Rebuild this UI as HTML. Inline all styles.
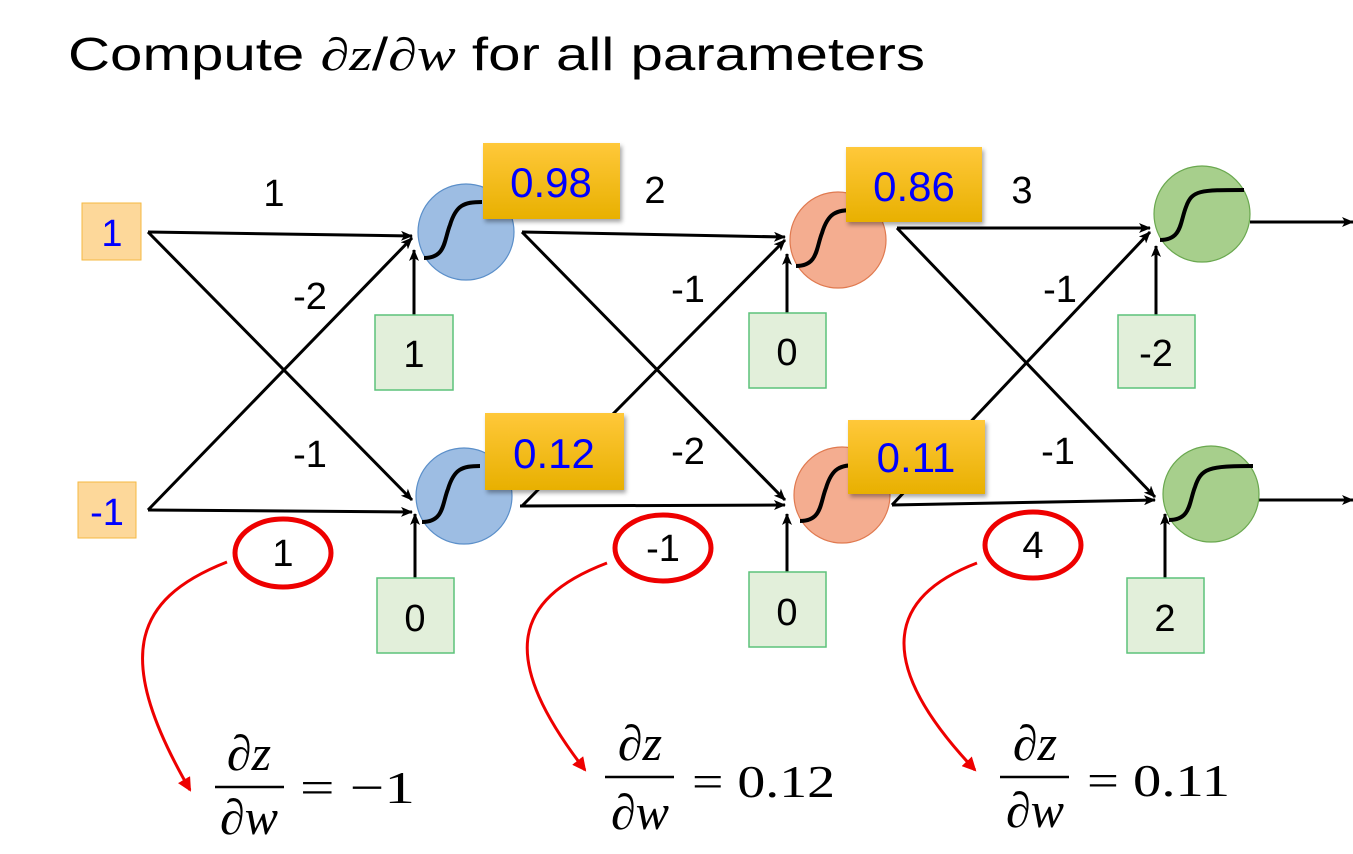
<!DOCTYPE html>
<html><head><meta charset="utf-8"><style>
body{margin:0;background:#fff;width:1353px;height:854px;overflow:hidden}
svg{display:block}
text{font-family:"Liberation Sans",sans-serif}
.m{font-family:"Liberation Serif",serif;font-style:italic}
.s{font-family:"Liberation Serif",serif}
</style></head><body>
<svg width="1353" height="854" viewBox="0 0 1353 854">
<defs>
<marker id="a" markerWidth="12" markerHeight="10" refX="11" refY="5" orient="auto" markerUnits="userSpaceOnUse"><path d="M0,0 L12,5 L0,10 L3,5 z" fill="#000"/></marker>
<marker id="r" markerWidth="14" markerHeight="14" refX="12" refY="7" orient="auto" markerUnits="userSpaceOnUse"><path d="M0,0 L14,7 L0,14 z" fill="#e00"/></marker>
<linearGradient id="og" x1="0" y1="0" x2="0" y2="1"><stop offset="0" stop-color="#ffc83a"/><stop offset="1" stop-color="#e8b000"/></linearGradient>
</defs>
<text x="68" y="70" font-size="46" textLength="857" lengthAdjust="spacingAndGlyphs">Compute <tspan class="m">∂z</tspan>/<tspan class="m">∂w</tspan> for all parameters</text>
<g stroke="#000" stroke-width="3" fill="none" marker-end="url(#a)">
<line x1="148" y1="232" x2="412" y2="236"/>
<line x1="148" y1="232" x2="412" y2="500"/>
<line x1="148" y1="510" x2="412" y2="238"/>
<line x1="148" y1="510" x2="412" y2="512"/>
<line x1="522" y1="232" x2="785" y2="237"/>
<line x1="522" y1="232" x2="785" y2="500"/>
<line x1="522" y1="506" x2="785" y2="240"/>
<line x1="520" y1="506" x2="785" y2="505"/>
<line x1="897" y1="228" x2="1150" y2="228"/>
<line x1="897" y1="228" x2="1155" y2="497"/>
<line x1="892" y1="505" x2="1150" y2="232"/>
<line x1="892" y1="505" x2="1155" y2="500"/>
<line x1="1250" y1="222" x2="1353" y2="222"/>
<line x1="1257" y1="500" x2="1353" y2="500"/>
<line x1="414" y1="315" x2="414" y2="250"/>
<line x1="415" y1="578" x2="415" y2="514"/>
<line x1="787" y1="313" x2="787" y2="254"/>
<line x1="787" y1="572" x2="787" y2="514"/>
<line x1="1156" y1="315" x2="1156" y2="246"/>
<line x1="1165" y1="578" x2="1165" y2="514"/>
</g>
<g stroke-width="1.2">
<circle cx="466" cy="232" r="48" fill="#9dbde3" stroke="#5b8fc9"/>
<circle cx="464" cy="496" r="48" fill="#9dbde3" stroke="#5b8fc9"/>
<circle cx="838" cy="240" r="48" fill="#f4ad90" stroke="#e07a50"/>
<circle cx="842" cy="495" r="48" fill="#f4ad90" stroke="#e07a50"/>
<circle cx="1202" cy="214" r="48" fill="#a7cf8c" stroke="#6aa84f"/>
<circle cx="1211" cy="494" r="48" fill="#a7cf8c" stroke="#6aa84f"/>
</g>
<g stroke="#000" stroke-width="4" fill="none">
<path d="M424,258 C446,258 444,240 450,225 C456,205 464,202 482,202"/>
<path d="M422,522 C444,522 442,504 448,489 C454,469 462,466 480,466"/>
<path d="M796,266 C818,266 816,248 822,233 C828,213 836,210 854,210"/>
<path d="M800,521 C822,521 820,503 826,488 C832,468 840,465 858,465"/>
<path d="M1160,240 C1182,240 1180,222 1186,207 C1192,190 1200,190 1244,190"/>
<path d="M1169,520 C1191,520 1189,502 1195,487 C1201,468 1209,466 1253,466"/>
</g>
<rect x="82" y="203" width="59" height="57" fill="#fdd89a" stroke="#f5b942"/>
<text x="112" y="246" font-size="38" fill="#00f" text-anchor="middle">1</text>
<rect x="78" y="482" width="58" height="56" fill="#fdd89a" stroke="#f5b942"/>
<text x="107" y="525" font-size="38" fill="#00f" text-anchor="middle">-1</text>
<g fill="#e2efda" stroke="#5cc27a" stroke-width="1.5">
<rect x="375" y="315" width="78" height="75"/><rect x="377" y="578" width="77" height="75"/>
<rect x="749" y="313" width="77" height="75"/><rect x="749" y="572" width="77" height="75"/>
<rect x="1118" y="315" width="77" height="73"/><rect x="1127" y="578" width="77" height="75"/>
</g>
<g font-size="38" text-anchor="middle">
<text x="414" y="367">1</text><text x="415" y="631">0</text><text x="787" y="365">0</text><text x="787" y="625">0</text><text x="1156" y="366">-2</text><text x="1165" y="631">2</text>
<text x="274" y="206">1</text><text x="310" y="309">-2</text><text x="310" y="467">-1</text>
<text x="655" y="203">2</text><text x="688" y="302">-1</text><text x="688" y="464">-2</text>
<text x="1022" y="203">3</text><text x="1060" y="302">-1</text><text x="1058" y="464">-1</text>
<text x="283" y="566">1</text><text x="663" y="561">-1</text><text x="1033" y="558">4</text>
</g>
<g fill="url(#og)" style="filter:drop-shadow(2px 3px 2px rgba(0,0,0,.35))">
<rect x="483" y="143" width="137" height="76"/><rect x="485" y="413" width="139" height="77"/>
<rect x="846" y="147" width="136" height="75"/><rect x="848" y="420" width="137" height="74"/>
</g>
<g font-size="42" fill="#00f" text-anchor="middle">
<text x="551" y="197">0.98</text><text x="554" y="468">0.12</text><text x="914" y="201">0.86</text><text x="916" y="472">0.11</text>
</g>
<g stroke="#e00" stroke-width="5" fill="none">
<ellipse cx="283" cy="553" rx="48" ry="34"/><ellipse cx="663" cy="548" rx="48" ry="33"/><ellipse cx="1033" cy="545" rx="48" ry="33"/>
</g>
<g stroke="#e00" stroke-width="3" fill="none" marker-end="url(#r)">
<path d="M227,562 C130,600 115,660 190,790"/>
<path d="M607,563 C510,600 500,660 585,770"/>
<path d="M977,563 C880,600 880,670 975,770"/>
</g>
<g font-size="50">
<text x="249" y="770" text-anchor="middle" class="m">∂z</text><line x1="215" y1="787" x2="284" y2="787" stroke="#000" stroke-width="2.5"/><text x="249" y="834" text-anchor="middle" class="m">∂w</text><text x="300" y="803" class="s" font-size="46" textLength="115" lengthAdjust="spacingAndGlyphs">= −1</text>
<text x="640" y="760" text-anchor="middle" class="m">∂z</text><line x1="605" y1="777" x2="674" y2="777" stroke="#000" stroke-width="2.5"/><text x="640" y="829" text-anchor="middle" class="m">∂w</text><text x="692" y="797" class="s" font-size="46" textLength="143" lengthAdjust="spacingAndGlyphs">= 0.12</text>
<text x="1035" y="760" text-anchor="middle" class="m">∂z</text><line x1="1000" y1="777" x2="1069" y2="777" stroke="#000" stroke-width="2.5"/><text x="1035" y="827" text-anchor="middle" class="m">∂w</text><text x="1087" y="796" class="s" font-size="46" textLength="143" lengthAdjust="spacingAndGlyphs">= 0.11</text>
</g>
</svg>
</body></html>
